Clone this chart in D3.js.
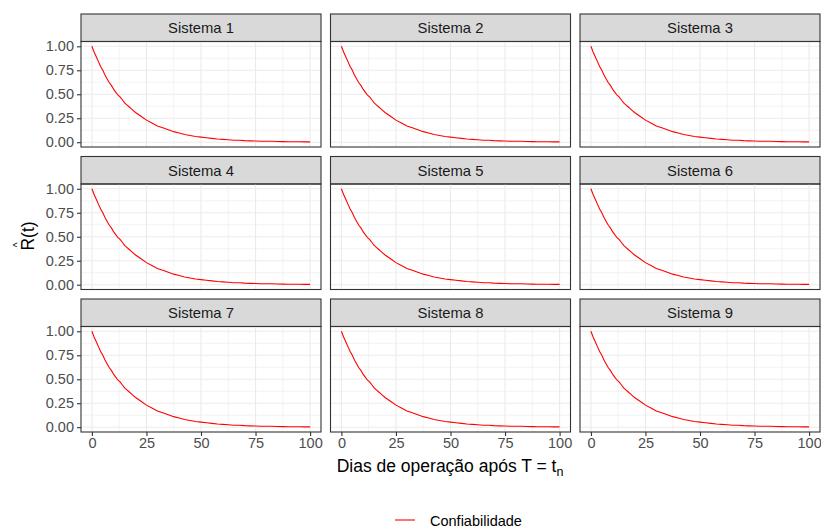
<!DOCTYPE html>
<html>
<head>
<meta charset="utf-8">
<script src="https://cdn.jsdelivr.net/npm/d3@7"></script>
<style>
  body { margin: 0; background: #fff; }
  text { font-family: "Liberation Sans", Arial, sans-serif; }
</style>
</head>
<body>
<div id="chart"></div>
<script>
// Data (same curve in every panel)
const systems = ["Sistema 1", "Sistema 2", "Sistema 3", "Sistema 4", "Sistema 5",
                 "Sistema 6", "Sistema 7", "Sistema 8", "Sistema 9"];
const days = [0, 1, 2, 3, 4, 5, 6, 7, 8, 9, 10, 11, 12, 13, 14, 15, 16, 17, 18, 19, 20,
              22.5, 25, 27.5, 30, 32.5, 35, 37.5, 40, 42.5, 45, 47.5, 50, 52.5, 55,
              57.5, 60, 62.5, 65, 67.5, 70, 72.5, 75, 77.5, 80, 82.5, 85, 87.5, 90,
              92.5, 95, 97.5, 100];
const reliability = [1.00, 0.94, 0.89, 0.84, 0.79, 0.75, 0.70, 0.66, 0.62, 0.59, 0.55,
                     0.52, 0.49, 0.47, 0.44, 0.41, 0.39, 0.37, 0.35, 0.33, 0.31,
                     0.27, 0.23, 0.20, 0.17, 0.15, 0.13, 0.11, 0.095, 0.08, 0.07, 0.06,
                     0.053, 0.046, 0.04, 0.034, 0.03, 0.025, 0.02, 0.02, 0.016, 0.014,
                     0.012, 0.01, 0.01, 0.01, 0.007, 0.006, 0.005, 0.005, 0.004, 0.003,
                     0.003];
const xTicks = [0, 25, 50, 75, 100];
const yTicks = [0, 0.25, 0.5, 0.75, 1];

const W = 821, H = 530;
const svg = d3.select("#chart").append("svg")
  .attr("width", W).attr("height", H);

// Facet geometry
const left = 81, colStep = 249.5, panelW = 240;
const top0 = 14, rowStep = 142.5, stripH = 27.5, panelH = 105.5;

const x = d3.scaleLinear().domain([-5, 105]).range([0, panelW]);
const y = d3.scaleLinear().domain([-0.05, 1.05]).range([panelH, 0]);

const data = days.map((d, i) => ({t: d, r: reliability[i]}));
const line = d3.line().x(d => x(d.t)).y(d => y(d.r));

systems.forEach((name, i) => {
  const col = i % 3, row = Math.floor(i / 3);
  const g = svg.append("g")
    .attr("transform", `translate(${left + col * colStep},${top0 + row * rowStep})`);

  // strip
  g.append("rect")
    .attr("x", 0).attr("y", 0).attr("width", panelW).attr("height", stripH)
    .attr("fill", "#d9d9d9").attr("stroke", "#333").attr("stroke-width", 1.1);
  g.append("text")
    .attr("x", panelW / 2).attr("y", stripH / 2 + 5.3)
    .attr("text-anchor", "middle").attr("font-size", 14.8).attr("fill", "#1a1a1a")
    .text(name);

  const p = g.append("g").attr("transform", `translate(0,${stripH})`);

  // minor grid
  [12.5, 37.5, 62.5, 87.5].forEach(v => {
    p.append("line").attr("x1", x(v)).attr("x2", x(v)).attr("y1", 0).attr("y2", panelH)
      .attr("stroke", "#ebebeb").attr("stroke-width", 0.6);
  });
  [0.125, 0.375, 0.625, 0.875].forEach(v => {
    p.append("line").attr("y1", y(v)).attr("y2", y(v)).attr("x1", 0).attr("x2", panelW)
      .attr("stroke", "#ebebeb").attr("stroke-width", 0.6);
  });
  // major grid
  xTicks.forEach(v => {
    p.append("line").attr("x1", x(v)).attr("x2", x(v)).attr("y1", 0).attr("y2", panelH)
      .attr("stroke", "#ebebeb").attr("stroke-width", 1.1);
  });
  yTicks.forEach(v => {
    p.append("line").attr("y1", y(v)).attr("y2", y(v)).attr("x1", 0).attr("x2", panelW)
      .attr("stroke", "#ebebeb").attr("stroke-width", 1.1);
  });

  p.append("path").datum(data)
    .attr("d", line).attr("fill", "none")
    .attr("stroke", "#ff0000").attr("stroke-width", 1.1);

  p.append("rect")
    .attr("x", 0).attr("y", 0).attr("width", panelW).attr("height", panelH)
    .attr("fill", "none").attr("stroke", "#333").attr("stroke-width", 1.1);

  // y axis on first column
  if (col === 0) {
    const ay = p.append("g").call(d3.axisLeft(y).tickValues(yTicks)
      .tickFormat(d3.format(".2f")).tickSize(4).tickPadding(3));
    ay.select(".domain").remove();
    ay.selectAll("line").attr("stroke", "#333").attr("stroke-width", 1.1);
    ay.selectAll("text").attr("font-size", 14.5).attr("fill", "#4d4d4d")
      .attr("font-family", "Liberation Sans, Arial, sans-serif");
  }
  // x axis on last row
  if (row === 2) {
    const ax = p.append("g").attr("transform", `translate(0,${panelH})`)
      .call(d3.axisBottom(x).tickValues(xTicks).tickSize(4).tickPadding(2));
    ax.select(".domain").remove();
    ax.selectAll("line").attr("stroke", "#333").attr("stroke-width", 1.1);
    ax.selectAll("text").attr("font-size", 14.5).attr("fill", "#4d4d4d")
      .attr("font-family", "Liberation Sans, Arial, sans-serif");
  }
});

// y axis title (R hat of t)
const yt = svg.append("g").attr("transform", "translate(34,236) rotate(-90)");
yt.append("text").attr("text-anchor", "middle").attr("font-size", 17.5)
  .attr("fill", "#000").text("R(t)");
yt.append("text").attr("x", -9).attr("y", -13.5).attr("text-anchor", "middle")
  .attr("font-size", 10).attr("fill", "#000").text("^");

// x axis title
const xt = svg.append("text").attr("x", 450).attr("y", 472)
  .attr("text-anchor", "middle").attr("font-size", 17.5).attr("fill", "#000");
xt.append("tspan").text("Dias de operação após T = t");
xt.append("tspan").attr("font-size", 12.5).attr("dy", 4).text("n");

// legend
svg.append("line").attr("x1", 395).attr("x2", 415).attr("y1", 520).attr("y2", 520)
  .attr("stroke", "#ff0000").attr("stroke-width", 1.1);
svg.append("text").attr("x", 430).attr("y", 526).attr("font-size", 14.5)
  .attr("fill", "#000").text("Confiabilidade");
</script>
</body>
</html>
